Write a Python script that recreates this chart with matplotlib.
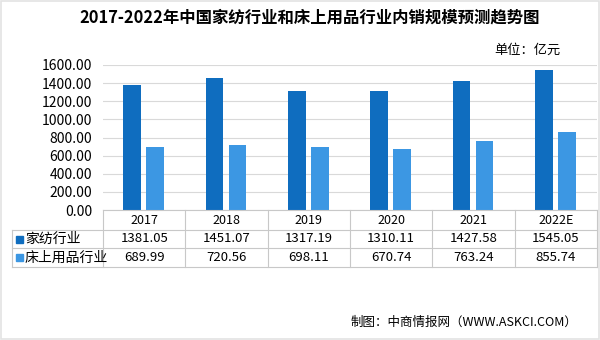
import matplotlib

matplotlib.use("Agg")
import matplotlib.pyplot as plt
from matplotlib.lines import Line2D
from matplotlib.patches import Rectangle
import numpy as np

plt.rcParams["font.family"] = ["Noto Sans CJK SC", "DejaVu Sans"]

years = ["2017", "2018", "2019", "2020", "2021", "2022E"]
home_textile = [1381.05, 1451.07, 1317.19, 1310.11, 1427.58, 1545.05]
bedding = [689.99, 720.56, 698.11, 670.74, 763.24, 855.74]
series_names = ["家纺行业", "床上用品行业"]
colors = ["#0F6DBF", "#3C97E3"]

W, H = 600, 340
fig = plt.figure(figsize=(W / 100, H / 100), dpi=100)


def fx(px):
    return px / W


def fy(py):
    return 1 - py / H


# faint frame round the whole picture
fig.add_artist(Rectangle((0.001, 0.002), 0.997, 0.995, fill=False,
                         edgecolor="#E3E3E3", lw=1.2, transform=fig.transFigure))

# plot area in pixels
left, right, top, bottom = 103, 597, 65, 210
ax = fig.add_axes([fx(left), fy(bottom), fx(right - left), fy(top) - fy(bottom)])

x = np.arange(len(years))
bar_w = 0.215
ax.bar(x - 0.145, home_textile, bar_w, color=colors[0], zorder=3)
ax.bar(x + 0.135, bedding, bar_w, color=colors[1], zorder=3)
ax.set_xlim(-0.5, len(years) - 0.5)
ax.set_ylim(0, 1600)
ax.set_yticks(np.arange(0, 1601, 200))
ax.set_yticklabels([f"{v:.2f}" for v in np.arange(0, 1601, 200)], fontsize=10)
ax.set_xticks([])
ax.grid(axis="y", color="#D9D9D9", linewidth=0.8, zorder=0)
for s in ax.spines.values():
    s.set_visible(False)
ax.tick_params(axis="y", length=0, pad=8)

# data table below
line_c = "#C8C8C8"
row_y = [210, 230, 248, 267]
tbl_left = 12
col_w = (right - left) / len(years)


def hline(py, x0, x1):
    fig.add_artist(Line2D([fx(x0), fx(x1)], [fy(py), fy(py)], color=line_c, lw=0.8))


def vline(px, y0, y1):
    fig.add_artist(Line2D([fx(px), fx(px)], [fy(y0), fy(y1)], color=line_c, lw=0.8))


hline(row_y[0], left, right)
hline(row_y[1], tbl_left, right)
hline(row_y[2], tbl_left, right)
hline(row_y[3], tbl_left, right)
vline(tbl_left, row_y[1], row_y[3])
for i in range(len(years) + 1):
    vline(left + i * col_w, row_y[0], row_y[3])

for i, yr in enumerate(years):
    cx = left + (i + 0.5) * col_w
    fig.text(fx(cx), fy((row_y[0] + row_y[1]) / 2), yr, ha="center", va="center", fontsize=9)
    fig.text(fx(cx), fy((row_y[1] + row_y[2]) / 2), f"{home_textile[i]:.2f}",
             ha="center", va="center", fontsize=9.5)
    fig.text(fx(cx), fy((row_y[2] + row_y[3]) / 2), f"{bedding[i]:.2f}",
             ha="center", va="center", fontsize=9.5)

for r, name in enumerate(series_names):
    cy = (row_y[r + 1] + row_y[r + 2]) / 2
    fig.add_artist(Rectangle((fx(16), fy(cy + 3.5)), fx(7), fy(0) - fy(7),
                             color=colors[r], transform=fig.transFigure))
    fig.text(fx(25), fy(cy), name, ha="left", va="center", fontsize=10)

fig.text(fx(310), fy(18), "2017-2022年中国家纺行业和床上用品行业内销规模预测趋势图",
         ha="center", va="center", fontsize=11.8, fontweight="bold")
fig.text(fx(561), fy(50), "单位：亿元", ha="right", va="center", fontsize=9.5)
fig.text(fx(577), fy(322), "制图：中商情报网（WWW.ASKCI.COM）", ha="right", va="center", fontsize=9)

fig.savefig("out.png", dpi=100)
